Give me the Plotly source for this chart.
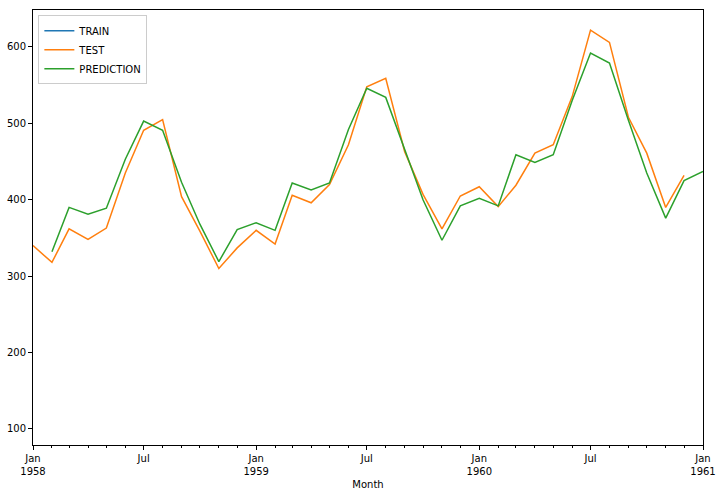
import plotly.graph_objects as go

# TRAIN (tail of training set, lies before visible window)
train_months = ["1957-%02d-01" % m for m in range(1, 13)]
train_values = [315, 301, 356, 348, 355, 422, 465, 467, 404, 347, 305, 336]

test_months = ["%d-%02d-01" % (y, m) for y in (1958, 1959, 1960) for m in range(1, 13)]
test_values = [340, 318, 362, 348, 363, 435, 491, 505, 404, 359, 310, 337,
               360, 342, 406, 396, 420, 472, 548, 559, 463, 407, 362, 405,
               417, 391, 419, 461, 472, 535, 622, 606, 508, 461, 390, 432]

pred_months = test_months[1:] + ["1961-01-01"]
pred_values = [332, 390, 381, 389, 453, 503, 491, 423, 368, 319, 361,
               370, 360, 422, 413, 422, 492, 546, 534, 465, 400, 347, 392,
               402, 392, 459, 449, 459, 530, 592, 579, 504, 435, 376, 425,
               437]

xtick_vals = ["1958-01-01", "1958-07-01", "1959-01-01", "1959-07-01",
              "1960-01-01", "1960-07-01", "1961-01-01"]
xtick_text = ["Jan<br>1958", "Jul", "Jan<br>1959", "Jul", "Jan<br>1960", "Jul", "Jan<br>1961"]
ytick_vals = [100, 200, 300, 400, 500, 600]

fig = go.Figure()
fig.add_trace(go.Scatter(x=train_months, y=train_values, mode="lines", name="TRAIN",
                         line=dict(color="#1f77b4", width=1.5)))
fig.add_trace(go.Scatter(x=test_months, y=test_values, mode="lines", name="TEST",
                         line=dict(color="#ff7f0e", width=1.5)))
fig.add_trace(go.Scatter(x=pred_months, y=pred_values, mode="lines", name="PREDICTION",
                         line=dict(color="#2ca02c", width=1.5)))

font = dict(family="DejaVu Sans", size=10, color="#000000")
fig.update_layout(
    width=722, height=495,
    margin=dict(l=33, r=19, t=10, b=50, autoexpand=False),
    paper_bgcolor="white", plot_bgcolor="white",
    font=font,
    showlegend=True,
    legend=dict(x=0.008, y=0.988, xanchor="left", yanchor="top",
                bgcolor="rgba(255,255,255,0.8)", bordercolor="#cccccc", borderwidth=1,
                font=dict(family="DejaVu Sans", size=10), tracegroupgap=0,
                itemwidth=30),
    xaxis=dict(
        type="date", range=["1958-01-01", "1961-01-01"], automargin=False,
        tickmode="array", tickvals=xtick_vals, ticktext=xtick_text,
        ticks="outside", ticklen=4, tickcolor="#000", showgrid=False, zeroline=False,
        showline=True, linecolor="#000", linewidth=1, mirror=True,
        minor=dict(ticks="outside", ticklen=2, dtick="M1", tick0="1958-01-01",
                   tickcolor="#000", showgrid=False),
        title=dict(text="Month", font=font, standoff=4),
        tickfont=font,
    ),
    yaxis=dict(
        range=[79, 648.4], tickmode="array", tickvals=ytick_vals, automargin=False,
        ticks="outside", ticklen=4, tickcolor="#000", showgrid=False, zeroline=False,
        showline=True, linecolor="#000", linewidth=1, mirror=True,
        tickfont=font,
    ),
)

fig.write_html("out.html", config={"displayModeBar": False},
               post_script="document.body.style.margin='0';document.body.style.padding='0';")
